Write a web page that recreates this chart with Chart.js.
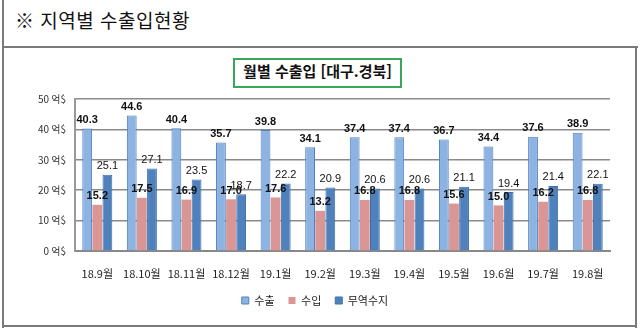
<!DOCTYPE html>
<html lang="ko">
<head>
<meta charset="utf-8">
<script src="https://cdn.jsdelivr.net/npm/chart.js@4/dist/chart.umd.min.js"></script>
<style>
  html, body { margin: 0; padding: 0; background: #fff; }
  #wrap { position: relative; width: 640px; height: 330px; overflow: hidden; }
  #header { position: absolute; left: 15px; top: 6px; font: 19px "Noto Sans CJK KR", sans-serif; color: #111; letter-spacing: 0.5px; }
  .ln { position: absolute; background: #7a7a7a; }
  #title {
    position: absolute; left: 233px; top: 58px; width: 165px; height: 26px;
    border: 2px solid #3aa65a; text-align: center; line-height: 26px;
    font: bold 15px "Noto Sans CJK KR", sans-serif; color: #111;
  }
  canvas { position: absolute; left: 0; top: 0; }
</style>
</head>
<body>
<div id="wrap">
  <div id="header">※ 지역별 수출입현황</div>
  <div class="ln" style="left:2px;top:0;width:2px;height:328px"></div>
  <div class="ln" style="left:2px;top:46px;width:636px;height:2px"></div>
  <div class="ln" style="left:635px;top:46px;width:2px;height:282px"></div>
  <div class="ln" style="left:2px;top:325px;width:635px;height:2px"></div>
  <div id="title">월별 수출입 [대구.경북]</div>
  <canvas id="chart" width="640" height="330"></canvas>
</div>
<script>
// ─── Data ────────────────────────────────────────────────────────────────────
const months   = ["18.9월", "18.10월", "18.11월", "18.12월", "19.1월", "19.2월",
                  "19.3월", "19.4월", "19.5월", "19.6월", "19.7월", "19.8월"];
const exports_ = [40.3, 44.6, 40.4, 35.7, 39.8, 34.1, 37.4, 37.4, 36.7, 34.4, 37.6, 38.9];
const imports_ = [15.2, 17.5, 16.9, 17.0, 17.6, 13.2, 16.8, 16.8, 15.6, 15.0, 16.2, 16.8];
const balance  = [25.1, 27.1, 23.5, 18.7, 22.2, 20.9, 20.6, 20.6, 21.1, 19.4, 21.4, 22.1];
const yTicks   = [0, 10, 20, 30, 40, 50];

const NUM_FONT = "'Liberation Sans', Arial, sans-serif";
const KR_FONT  = "'Noto Sans CJK KR', sans-serif";

// ─── Value labels above bars ─────────────────────────────────────────────────
const valueLabels = {
    id: "valueLabels",
    afterDatasetsDraw(chart) {
        const c = chart.ctx;
        c.save();
        c.textAlign = "center";
        c.textBaseline = "bottom";
        c.fillStyle = "#111";
        chart.data.datasets.forEach((ds, di) => {
            c.font = (ds.boldLabel ? "bold " : "") + "11px " + NUM_FONT;
            chart.getDatasetMeta(di).data.forEach((bar, i) => {
                c.fillText(ds.data[i].toFixed(1), bar.x, bar.y - 3);
            });
        });
        c.restore();
    }
};

new Chart(document.getElementById("chart"), {
    type: "bar",
    plugins: [valueLabels],
    data: {
        labels: months,
        datasets: [
            { label: "수출", data: exports_, backgroundColor: "#8db3e2", borderColor: "#4f81bd",
              borderWidth: 1, boldLabel: true },
            { label: "수입", data: imports_, backgroundColor: "#d99694", borderColor: "#d99694",
              borderWidth: 0, boldLabel: true },
            { label: "무역수지", data: balance, backgroundColor: "#4f81bd", borderColor: "#3f6fa8",
              borderWidth: 1, boldLabel: false },
        ]
    },
    options: {
        responsive: false,
        animation: false,
        layout: { padding: { left: 20, right: 30, top: 99, bottom: 14 } },
        datasets: { bar: { categoryPercentage: 0.68, barPercentage: 0.97 } },
        scales: {
            x: {
                grid: { display: false },
                border: { color: "#888", width: 2 },
                ticks: { color: "#222", font: { family: KR_FONT, size: 11 }, padding: 8, maxRotation: 0 },
                afterFit: s => { s.height = 30; }
            },
            y: {
                min: 0, max: 50,
                afterBuildTicks: s => { s.ticks = yTicks.map(v => ({ value: v })); },
                grid: { color: "#8a8a8a", lineWidth: 1.5, drawTicks: false },
                border: { color: "#999", width: 2 },
                ticks: { color: "#333", font: { family: KR_FONT, size: 10 }, padding: 9,
                         callback: v => v + " 억$" },
                afterFit: s => { s.width = 55; }
            }
        },
        plugins: {
            legend: {
                position: "bottom",
                labels: { color: "#222", font: { family: KR_FONT, size: 11 },
                          boxWidth: 7, boxHeight: 7, padding: 14 }
            },
            tooltip: { enabled: false }
        }
    }
});
</script>
</body>
</html>
